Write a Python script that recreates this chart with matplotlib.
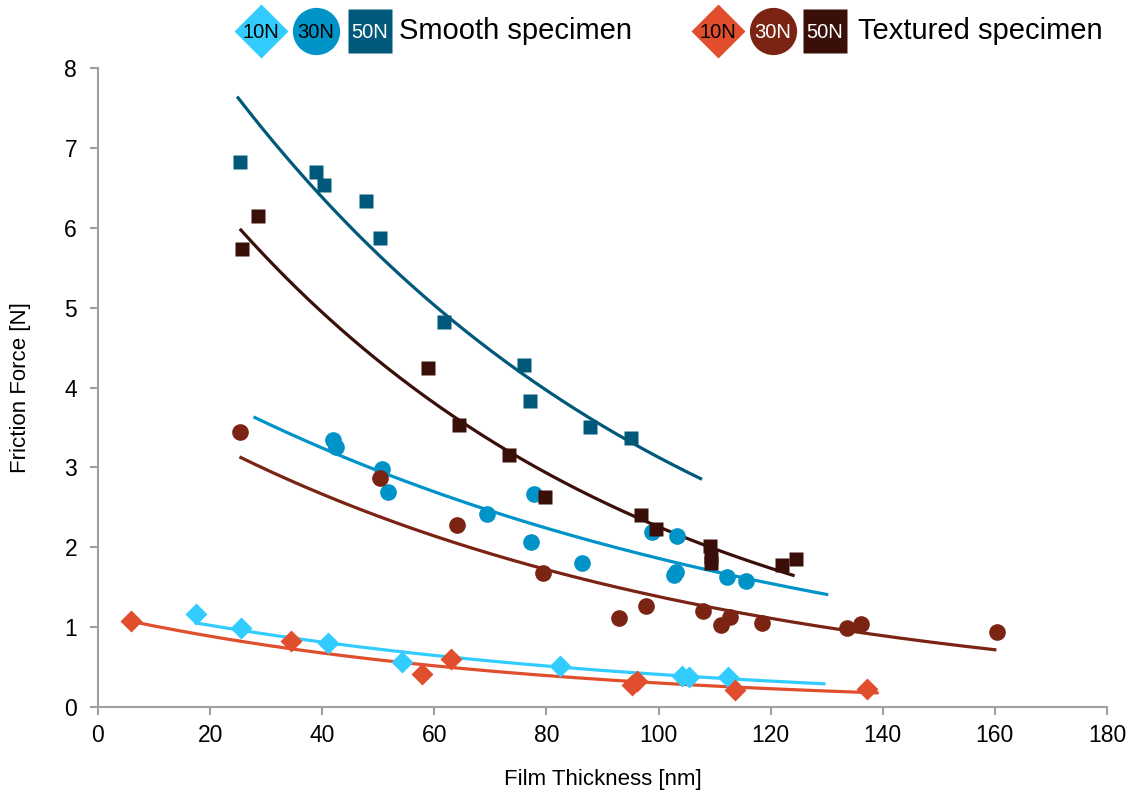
import numpy as np
import matplotlib
matplotlib.use("Agg")
from matplotlib import pyplot as plt

plt.rcParams['font.family'] = ['Liberation Sans', 'DejaVu Sans']

# smooth specimen
s10_x = [17.5, 25.5, 41.0, 54.2, 82.4, 104.2, 105.4, 112.4]
s10_y = [1.16, 0.99, 0.80, 0.56, 0.51, 0.39, 0.38, 0.38]
s30_x = [41.9, 42.5, 50.7, 51.7, 69.4, 77.8, 77.2, 86.3, 98.8, 103.3, 102.7, 103.1, 112.2, 115.6]
s30_y = [3.34, 3.25, 2.98, 2.69, 2.42, 2.67, 2.07, 1.80, 2.19, 2.14, 1.65, 1.69, 1.63, 1.58]
s50_x = [25.3, 38.9, 40.3, 47.8, 50.3, 61.7, 76.0, 77.1, 87.8, 95.1]
s50_y = [6.82, 6.70, 6.53, 6.33, 5.87, 4.82, 4.28, 3.83, 3.50, 3.37]

# textured specimen
t10_x = [5.9, 34.4, 57.8, 63.0, 95.3, 96.1, 113.6, 137.2]
t10_y = [1.08, 0.83, 0.41, 0.60, 0.28, 0.33, 0.21, 0.22]
t30_x = [25.3, 50.3, 64.0, 79.4, 93.0, 97.8, 107.9, 111.1, 112.7, 118.4, 133.6, 136.1, 160.4]
t30_y = [3.44, 2.87, 2.28, 1.68, 1.11, 1.26, 1.20, 1.03, 1.13, 1.05, 0.99, 1.04, 0.94]
t50_x = [28.5, 25.7, 58.9, 64.4, 73.3, 79.7, 96.9, 99.5, 109.2, 109.4, 109.3, 122.0, 124.5]
t50_y = [6.15, 5.73, 4.24, 3.53, 3.15, 2.63, 2.40, 2.23, 2.02, 1.88, 1.80, 1.78, 1.85]

# x range covered by each exponential trendline
s10_fit = [17.5, 129.5]
s30_fit = [28.0, 130.0]
s50_fit = [25.0, 107.5]
t10_fit = [6.0, 139.0]
t30_fit = [25.5, 160.0]
t50_fit = [25.5, 124.0]

c_s10, c_s30, c_s50 = '#33CCFF', '#0093C8', '#00587A'
c_t10, c_t30, c_t50 = '#E04E2E', '#7B2414', '#3A0F09'

series = [
    (s10_x, s10_y, s10_fit, c_s10, 'D', 11),
    (t10_x, t10_y, t10_fit, c_t10, 'D', 11),
    (s30_x, s30_y, s30_fit, c_s30, 'o', 12),
    (t30_x, t30_y, t30_fit, c_t30, 'o', 12),
    (s50_x, s50_y, s50_fit, c_s50, 's', 10.5),
    (t50_x, t50_y, t50_fit, c_t50, 's', 10.5),
]

fig = plt.figure(figsize=(11.35, 7.91), dpi=100)
ax = fig.add_axes([0.0863, 0.1062, 0.889, 0.8078])

for x, y, rng, col, mk, ms in series:
    x = np.array(x)
    y = np.array(y)
    b, a = np.polyfit(x, np.log(y), 1)
    xx = np.linspace(rng[0], rng[1], 200)
    ax.plot(xx, np.exp(a) * np.exp(b * xx), color=col, lw=2.3, zorder=2)
    ax.plot(x, y, mk, color=col, ms=ms, mec='none', zorder=3)

ax.set_xlim(0, 180)
ax.set_ylim(0, 8)
ax.set_xticks(range(0, 181, 20))
ax.set_yticks(range(0, 9))
for s in ['top', 'right']:
    ax.spines[s].set_visible(False)
for s in ['left', 'bottom']:
    ax.spines[s].set_color('#A0A0A0')
    ax.spines[s].set_linewidth(1.5)
ax.tick_params(direction='out', length=6, width=1.5, color='#A0A0A0',
               labelsize=16.5)
ax.tick_params(axis='y', pad=9)
ax.tick_params(axis='x', pad=6)
ax.set_xlabel('Film Thickness [nm]', fontsize=16, labelpad=16)
ax.set_ylabel('Friction Force [N]', fontsize=16, labelpad=24)

# legend row drawn in pixel coordinates above the plot
lg = fig.add_axes([0, 0, 1, 1])
lg.set_xlim(0, 1135)
lg.set_ylim(791, 0)
lg.axis('off')

def key(x, mk, ms, col, label, tc):
    lg.plot([x], [31], mk, color=col, ms=ms, mec='none')
    lg.text(x, 32, label, ha='center', va='center', fontsize=14.5, color=tc)

key(261, 'D', 28, c_s10, '10N', 'black')
key(316, 'o', 34, c_s30, '30N', 'black')
key(370, 's', 32, c_s50, '50N', 'white')
lg.text(399, 31, 'Smooth specimen', ha='left', va='center', fontsize=21)
key(718, 'D', 28, c_t10, '10N', 'black')
key(773, 'o', 34, c_t30, '30N', 'white')
key(825, 's', 32, c_t50, '50N', 'white')
lg.text(858, 31, 'Textured specimen', ha='left', va='center', fontsize=21)

fig.savefig('out.png', dpi=100)
